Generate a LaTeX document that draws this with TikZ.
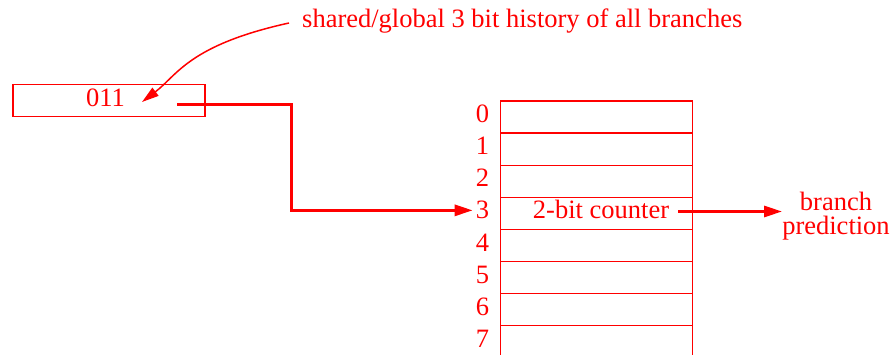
\documentclass[tikz,border=0pt]{standalone}
\usepackage{fontspec}
\setmainfont{Liberation Serif}
\usetikzlibrary{arrows.meta}
\definecolor{pen}{RGB}{255,0,0}
\begin{document}
\begin{tikzpicture}[x=1pt,y=-1pt,
  txt/.style={text=pen,font=\fontsize{26.5}{24}\selectfont,inner sep=0pt},
  cell/.style={draw=pen,line width=1.2pt,minimum width=192pt,minimum height=32.1pt,inner sep=0pt},
  thin/.style={draw=pen,line width=1.5pt,-{Triangle[length=17pt,width=10pt]}},
  thick/.style={draw=pen,line width=3pt,-{Triangle[length=18pt,width=11pt]}}]
\useasboundingbox (0,0) rectangle (895,355);
% history register
\node[cell] (hist) at (109,100.5) {};
\node[txt,anchor=base] (val) at (105.5,107) {011};
% shared text
\node[txt,anchor=base west] (shared) at (302,27.3) {shared/global 3 bit history of all branches};
\coordinate (cs) at (289,23);
\coordinate (ce) at (142,102);
\draw[thin] (cs) .. controls (189,45) and (177,75.4) .. (ce);
% table
\foreach \i in {0,...,6}{
  \node[cell] (r\i) at (596.5,117+32.1*\i) {};
  \node[txt,anchor=base] (l\i) at (482.5,122.7+32.1*\i) {\i};
}
\node[cell,minimum height=40pt] (r7) at (596.5,345.65) {};
\node[txt,anchor=base] (l7) at (482.5,122.7+32.1*7) {7};
\node[txt,anchor=base] (ctr) at (601,218.3) {2-bit counter};
\node[txt,align=center] (pred) at (836,216) {branch\\prediction};
% arrows
\coordinate (hs) at (177,104.3);
\coordinate (bend) at (291,157);
\draw[thick] (hs) -| (bend) |- ([xshift=-3pt]l3.west);
\coordinate (cstart) at (678,211.5);
\draw[thick] (cstart) -- (cstart -| pred.west);
\end{tikzpicture}
\end{document}
